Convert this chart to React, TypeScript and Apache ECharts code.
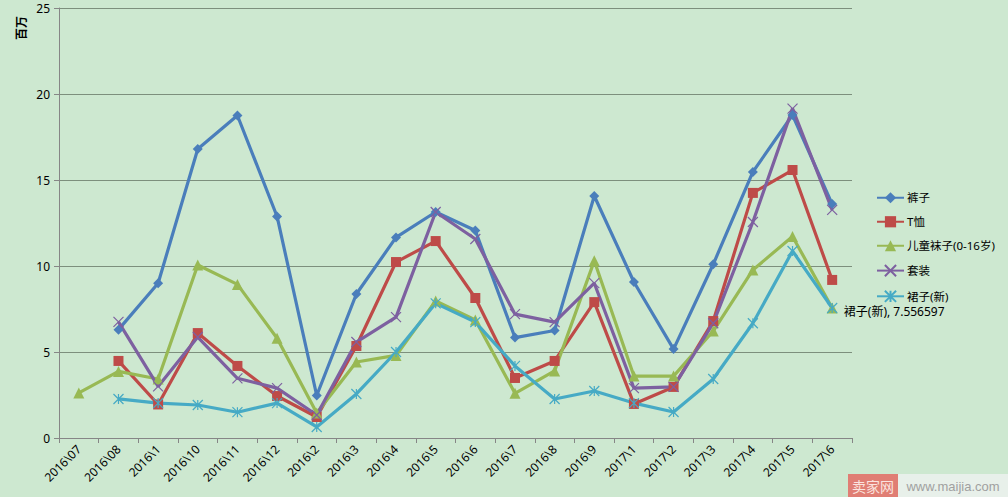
import React, { useEffect, useRef } from "react";
import * as echarts from "echarts";

const categories = [
  "2016\\07", "2016\\08", "2016\\1", "2016\\10", "2016\\11", "2016\\12", "2016\\2",
  "2016\\3", "2016\\4", "2016\\5", "2016\\6", "2016\\7", "2016\\8", "2016\\9",
  "2017\\1", "2017\\2", "2017\\3", "2017\\4", "2017\\5", "2017\\6",
];

const kuzi = [null, 6.3, 9.0, 16.8, 18.75, 12.88, 2.47, 8.37, 11.66, 13.14, 12.06, 5.84, 6.25, 14.07, 9.07, 5.17, 10.1, 15.47, 18.78, 13.6];
const txu = [null, 4.48, 1.95, 6.1, 4.19, 2.44, 1.22, 5.35, 10.23, 11.45, 8.14, 3.49, 4.48, 7.9, 1.98, 2.97, 6.8, 14.25, 15.58, 9.19];
const wazi = [2.62, 3.87, 3.43, 10.06, 8.93, 5.8, 1.45, 4.42, 4.8, 7.97, 6.86, 2.6, 3.9, 10.3, 3.6, 3.6, 6.22, 9.77, 11.72, 7.56];
const taozhuang = [null, 6.75, 3.0, 5.87, 3.47, 2.9, 1.34, 5.58, 7.03, 13.14, 11.57, 7.2, 6.74, 9.0, 2.9, 2.97, 6.67, 12.56, 19.15, 13.26];
const qunzi = [null, 2.27, 2.03, 1.92, 1.5, 2.03, 0.64, 2.56, 5.0, 7.83, 6.74, 4.19, 2.27, 2.73, 2.03, 1.51, 3.43, 6.67, 10.87, 7.556597];

const seriesNames = ["裤子", "T恤", "儿童袜子(0-16岁)", "套装", "裙子(新)"];
const colors = ["#4a7ebb", "#be4b48", "#98b954", "#7d60a0", "#46aac5"];

const crossPath = "path://M0,0 L10,10 M10,0 L0,10";
const starPath = "path://M5,0 L5,10 M0,0 L10,10 M10,0 L0,10";

export default function App() {
  const ref = useRef<HTMLDivElement>(null);
  useEffect(() => {
    if (!ref.current) return;
    const chart = echarts.init(ref.current, null, { renderer: "svg" });
    const font = "'Noto Sans', 'Noto Sans CJK SC', sans-serif";
    const lastIdx = qunzi.length - 1;
    const qunziData = qunzi.map((v, i) =>
      i === lastIdx
        ? {
            value: v,
            label: {
              show: true,
              position: "right",
              distance: 6,
              offset: [0, 3],
              formatter: "{a}, {c}",
              color: "#000",
              fontSize: 12,
              fontFamily: font,
            },
          }
        : v
    );
    const mk = (name: string, data: any[], color: string, symbol: string, size: number, stroke = false) => ({
      name,
      type: "line",
      data,
      symbol,
      symbolSize: size,
      showSymbol: true,
      connectNulls: false,
      lineStyle: { color, width: 3.2 },
      itemStyle: stroke
        ? { color, borderColor: color, borderWidth: 1.2 }
        : { color },
      emphasis: { disabled: true },
    });
    chart.setOption({
      animation: false,
      backgroundColor: "#cde8d0",
      textStyle: { fontFamily: font },
      grid: { left: 59, right: 156, top: 8, bottom: 59 },
      legend: {
        orient: "vertical",
        left: 871,
        top: 187,
        itemWidth: 27,
        itemHeight: 14,
        itemGap: 12.5,
        textStyle: { color: "#000", fontSize: 11.5, fontFamily: font, padding: [0, 0, 0, -2] },
        data: seriesNames,
      },
      xAxis: {
        type: "category",
        data: categories,
        boundaryGap: true,
        axisLine: { lineStyle: { color: "#868686", width: 1 } },
        axisTick: { show: true, alignWithLabel: false, length: 5, lineStyle: { color: "#868686" } },
        axisLabel: { rotate: 45, color: "#000", fontSize: 12, interval: 0, margin: 9, fontFamily: font },
        splitLine: { show: false },
      },
      yAxis: {
        type: "value",
        min: 0,
        max: 25,
        interval: 5,
        axisLine: { show: true, lineStyle: { color: "#868686", width: 1 } },
        axisTick: { show: true, length: 5, lineStyle: { color: "#868686" } },
        axisLabel: { color: "#000", fontSize: 12, margin: 9, fontFamily: font },
        splitLine: { lineStyle: { color: "#7d8f7d", width: 1 } },
      },
      graphic: [
        {
          type: "text",
          x: 21,
          y: 28,
          rotation: Math.PI / 2,
          style: {
            text: "百万",
            fontSize: 12,
            fontWeight: "bold",
            fill: "#000",
            align: "center",
            verticalAlign: "middle",
            fontFamily: font,
          },
        },
        {
          type: "rect",
          shape: { x: 848, y: 474, width: 50, height: 23 },
          style: { fill: "#e07e74" },
        },
        {
          type: "text",
          x: 873,
          y: 486,
          style: {
            text: "卖家网",
            fontSize: 14,
            fill: "#fbe3df",
            align: "center",
            verticalAlign: "middle",
            fontFamily: font,
          },
        },
        {
          type: "rect",
          shape: { x: 898, y: 474, width: 110, height: 23 },
          style: { fill: "#e8f0ea" },
        },
        {
          type: "text",
          x: 953,
          y: 486,
          style: {
            text: "www.maijia.com",
            fontSize: 13,
            fill: "#a0a0a0",
            align: "center",
            verticalAlign: "middle",
            fontFamily: "'Liberation Sans', Arial, sans-serif",
          },
        },
      ],
      series: [
        mk(seriesNames[0], kuzi, colors[0], "diamond", 10),
        mk(seriesNames[1], txu, colors[1], "rect", 10),
        mk(seriesNames[2], wazi, colors[2], "triangle", 11),
        mk(seriesNames[3], taozhuang, colors[3], crossPath, 10, true),
        mk(seriesNames[4], qunziData, colors[4], starPath, 10, true),
      ],
    });
    return () => chart.dispose();
  }, []);
  return (
    <div
      ref={ref}
      style={{ position: "absolute", left: 0, top: 0, width: 1008, height: 497 }}
    />
  );
}
